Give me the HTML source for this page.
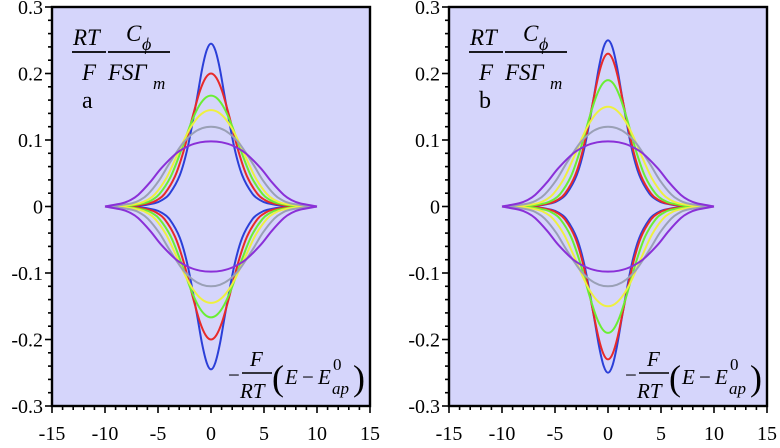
<!DOCTYPE html>
<html><head><meta charset="utf-8"><style>
html,body{margin:0;padding:0;background:#fff;}
svg{display:block;}
text{font-family:'Liberation Serif','DejaVu Serif',serif !important;}
</style></head><body>
<svg id="c" width="780" height="448" viewBox="0 0 780 448"></svg>
<script>
const xTicks=[-15,-10,-5,0,5,10,15];
const yTicks=[0.3,0.2,0.1,0,-0.1,-0.2,-0.3];
const yTickLabels=["0.3","0.2","0.1","0","-0.1","-0.2","-0.3"];
const seriesNames=["blue","red","green","yellow","gray","purple"];
const seriesColors=["#2b3fd8","#e82a2a","#6aee34","#eef040","#9aa0b6","#8a30d8"];
// panel a
const aBlueX=[0,0.405,0.847,1.386,2.197,2.944,3.892,4.595,5.293,6.9,10];
const aBlueY=[0.245,0.235,0.206,0.157,0.089,0.047,0.0195,0.0099,0.005,0.001,0];
const aRedX=[0,0.505,1.047,1.686,2.597,3.394,4.372,5.085,5.788,7.4,10];
const aRedY=[0.2,0.1935,0.1736,0.1379,0.0826,0.0454,0.0192,0.0098,0.005,0.001,0];
const aGreenX=[0,0.605,1.247,1.986,2.997,3.844,4.852,5.575,6.283,7.9,10];
const aGreenY=[0.1667,0.1622,0.1478,0.1212,0.0763,0.0435,0.0189,0.0097,0.005,0.001,0];
const aYellowX=[0,0.695,1.427,2.256,3.357,4.249,5.284,6.016,6.729,8.35,10];
const aYellowY=[0.1449,0.1415,0.1305,0.1093,0.0714,0.0417,0.0185,0.0097,0.005,0.001,0];
const aGrayX=[0,0.838,1.713,2.685,3.929,4.893,5.97,6.716,7.44,9.06,10];
const aGrayY=[0.12,0.1177,0.11,0.0945,0.0648,0.0394,0.0181,0.0095,0.0049,0.001,0];
const aPurpleX=[0,1.025,2.087,3.246,4.677,5.734,6.868,7.633,8.368,10];
const aPurpleY=[0.098,0.0965,0.0912,0.0803,0.0578,0.0367,0.0175,0.0094,0.0049,0];
// panel b
const bBlueX=[0,0.405,0.847,1.386,2.197,2.944,3.892,4.595,5.293,6.9,10];
const bBlueY=[0.25,0.24,0.21,0.16,0.09,0.0475,0.0196,0.0099,0.005,0.001,0];
const bRedX=[0,0.44,0.917,1.491,2.337,3.102,4.058,4.77,5.47,7.08,10];
const bRedY=[0.2299,0.2214,0.1956,0.1515,0.0873,0.0467,0.0195,0.0099,0.005,0.001,0];
const bGreenX=[0,0.531,1.099,1.764,2.701,3.511,4.497,5.212,5.917,7.53,10];
const bGreenY=[0.1901,0.1843,0.166,0.1332,0.0808,0.0448,0.0191,0.0098,0.005,0.001,0];
const bYellowX=[0,0.672,1.381,2.187,3.265,4.146,5.174,5.903,6.614,8.23,10];
const bYellowY=[0.15,0.1463,0.1345,0.1121,0.0726,0.0422,0.0186,0.0097,0.005,0.001,0];
const bGrayX=aGrayX, bGrayY=aGrayY, bPurpleX=aPurpleX, bPurpleY=aPurpleY;

const panels=[
 {id:"a",left:52,right:370,xs:[aBlueX,aRedX,aGreenX,aYellowX,aGrayX,aPurpleX],ys:[aBlueY,aRedY,aGreenY,aYellowY,aGrayY,aPurpleY]},
 {id:"b",left:449,right:767,xs:[bBlueX,bRedX,bGreenX,bYellowX,bGrayX,bPurpleX],ys:[bBlueY,bRedY,bGreenY,bYellowY,bGrayY,bPurpleY]}
];
const TOP=7,BOT=406;
const NS="http://www.w3.org/2000/svg";
const svg=document.getElementById("c");
const FONT="font-family:'Liberation Serif','DejaVu Serif',serif;";
function mk(tag,attrs,parent){const e=document.createElementNS(NS,tag);for(const k in attrs)e.setAttribute(k,attrs[k]);if(tag==="text"||tag==="g")e.setAttribute("style",FONT);(parent||svg).appendChild(e);return e;}
function catmull(pts){let d="M"+pts[0][0].toFixed(2)+","+pts[0][1].toFixed(2);
 for(let i=0;i<pts.length-1;i++){const p0=pts[i-1]||pts[i],p1=pts[i],p2=pts[i+1],p3=pts[i+2]||p2;
 const c1=[p1[0]+(p2[0]-p0[0])/6,p1[1]+(p2[1]-p0[1])/6],c2=[p2[0]-(p3[0]-p1[0])/6,p2[1]-(p3[1]-p1[1])/6];
 d+=" C"+c1[0].toFixed(2)+","+c1[1].toFixed(2)+" "+c2[0].toFixed(2)+","+c2[1].toFixed(2)+" "+p2[0].toFixed(2)+","+p2[1].toFixed(2);}
 return d;}

panels.forEach(P=>{
 const sx=v=>P.left+(v+15)/30*(P.right-P.left);
 const sy=v=>TOP+(0.3-v)/0.6*(BOT-TOP);
 const g=mk("g",{});
 
 
 const bg=mk("rect",{x:P.left,y:TOP,width:P.right-P.left,height:BOT-TOP,fill:"#d5d5fb"},g);
 
 
 P.xs.forEach((xs,si)=>{
  const ys=P.ys[si];
  const up=[],lo=[];
  for(let i=xs.length-1;i>0;i--)up.push([sx(-xs[i]),sy(ys[i])]);
  for(let i=0;i<xs.length;i++)up.push([sx(xs[i]),sy(ys[i])]);
  for(let i=xs.length-1;i>0;i--)lo.push([sx(-xs[i]),sy(-ys[i])]);
  for(let i=0;i<xs.length;i++)lo.push([sx(xs[i]),sy(-ys[i])]);
  const p=mk("path",{d:catmull(up)+" "+catmull(lo),fill:"none",stroke:seriesColors[si],"stroke-width":2},g);
  
  
 });
 const fr=mk("rect",{x:P.left,y:TOP,width:P.right-P.left,height:BOT-TOP,fill:"none",stroke:"#000","stroke-width":2.4},g);
 
 
 for(let k=-30;k<=30;k+=2){const v=k/100,y=sy(v),maj=(k%10===0);
  mk("line",{x1:P.left,x2:P.left-(maj?7:4),y1:y,y2:y,stroke:"#000","stroke-width":1.6},g);}
 yTicks.forEach((v,i)=>{const t=mk("text",{x:P.left-9,y:sy(v)+7,"text-anchor":"end","font-size":20},g);t.textContent=yTickLabels[i];
  
  });
 for(let k=-15;k<=15;k++){const x=sx(k),maj=(k%5===0);
  mk("line",{x1:x,x2:x,y1:BOT,y2:BOT+(maj?7:4),stroke:"#000","stroke-width":1.6},g);}
 xTicks.forEach(v=>{const t=mk("text",{x:sx(v),y:440,"text-anchor":"middle","font-size":20},g);t.textContent=String(v);
  
  });
 const o=P.left-52;
 const yl=mk("g",{"font-style":"italic","font-size":23},g);
 
 
 let t=mk("text",{x:o+73,y:45},yl);t.textContent="RT";
 mk("line",{x1:o+72,x2:o+106,y1:52,y2:52,stroke:"#000","stroke-width":1.8},yl);
 t=mk("text",{x:o+82,y:80},yl);t.textContent="F";
 t=mk("text",{x:o+126,y:41},yl);t.textContent="C";
 t=mk("text",{x:o+142,y:50,"font-size":18},yl);t.textContent="\u03D5";
 mk("line",{x1:o+108,x2:o+170,y1:52,y2:52,stroke:"#000","stroke-width":1.8},yl);
 t=mk("text",{x:o+108,y:80},yl);t.textContent="FS\u0393";
 t=mk("text",{x:o+153,y:89,"font-size":17},yl);t.textContent="m";
 const lab=mk("text",{x:o+82,y:108,"font-size":24},g);lab.textContent=P.id;
 
 
 const xl=mk("g",{"font-style":"italic","font-size":21},g);
 
 
 t=mk("text",{x:o+228,y:382,"font-style":"normal"},xl);t.textContent="\u2212";
 t=mk("text",{x:o+250,y:366},xl);t.textContent="F";
 mk("line",{x1:o+242,x2:o+272,y1:373,y2:373,stroke:"#000","stroke-width":1.5},xl);
 t=mk("text",{x:o+240,y:398},xl);t.textContent="RT";
 t=mk("text",{x:o+272,y:390,"font-style":"normal","font-size":36},xl);t.textContent="(";
 t=mk("text",{x:o+285,y:384},xl);t.textContent="E";
 t=mk("text",{x:o+302,y:384,"font-style":"normal"},xl);t.textContent="\u2212";
 t=mk("text",{x:o+318,y:384},xl);t.textContent="E";
 t=mk("text",{x:o+333,y:370,"font-style":"normal","font-size":17},xl);t.textContent="0";
 t=mk("text",{x:o+332,y:394,"font-size":17},xl);t.textContent="ap";
 t=mk("text",{x:o+353,y:390,"font-style":"normal","font-size":36},xl);t.textContent=")";
});
</script>
</body></html>
